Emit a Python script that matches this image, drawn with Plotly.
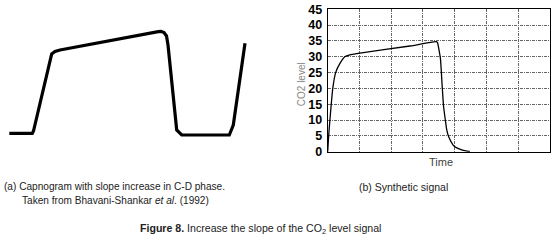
import plotly.graph_objects as go

# (a) Capnogram drawing (arbitrary units: time, CO2 level)
cap_t = [9.3, 32.3, 33.5, 51.7, 55, 60, 158.3, 161, 164, 166.5, 168, 173.3, 176.7, 181.7, 229.3, 233.3, 245]
cap_v = [6.7, 6.7, 9, 86, 88.5, 90, 108.3, 108.7, 107.5, 104, 95, 40, 10, 5, 5, 15, 96.7]

# (b) Synthetic signal (time in grid units, CO2 level)
syn_t = [0, 0.03, 0.07, 0.16, 0.25, 0.39, 0.54, 0.7, 0.91, 2.59, 3.42, 3.46, 3.49, 3.55, 3.6, 3.65,
         3.72, 3.75, 3.81, 3.95, 4.05, 4.22, 4.35, 4.48]
syn_v = [0, 5, 10, 20, 25, 28, 30, 30.6, 31, 33.4, 34.8, 34.4, 33, 29.4, 21.5, 14.2,
         8.9, 6.8, 4.7, 2.1, 1.3, 0.6, 0.25, 0]
y_ticks = [0, 5, 10, 15, 20, 25, 30, 35, 40, 45]

W, H = 554, 240
def fx(px):
    return px / W
def fy(py):
    return (H - py) / H

fig = go.Figure()
fig.add_trace(go.Scatter(x=cap_t, y=cap_v, mode="lines", xaxis="x", yaxis="y",
                         line=dict(color="black", width=3.2), showlegend=False, hoverinfo="skip"))
fig.add_trace(go.Scatter(x=syn_t, y=syn_v, mode="lines", xaxis="x2", yaxis="y2",
                         line=dict(color="black", width=1.3, shape="spline", smoothing=0.6),
                         showlegend=False, hoverinfo="skip"))

grid = dict(showgrid=True, gridcolor="#666", gridwidth=1, griddash="3px,1px,1px,1px")

fig.update_layout(
    width=W, height=H,
    margin=dict(l=0, r=0, t=0, b=0, autoexpand=False),
    paper_bgcolor="white", plot_bgcolor="white",
    font=dict(family="Liberation Sans, Arial, sans-serif", color="#222"),
    xaxis=dict(domain=[0, fx(277)], range=[0, 277], visible=False, automargin=False),
    yaxis=dict(domain=[fy(180), 1], range=[-40, 140], visible=False, automargin=False),
    xaxis2=dict(domain=[fx(327.7), fx(550)], range=[0, 7], anchor="y2", dtick=1,
                showticklabels=False, ticks="", zeroline=False, automargin=False,
                showline=True, mirror=True, linecolor="black", linewidth=1, **grid),
    yaxis2=dict(domain=[fy(151.7), fy(9.3)], range=[0, 45], anchor="x2", automargin=False,
                tickvals=y_ticks, ticks="", zeroline=False, ticklabelstandoff=2,
                tickfont=dict(size=12.5, color="black", family="Liberation Sans, Arial, sans-serif", weight="bold"),
                showline=True, mirror=True, linecolor="black", linewidth=1, **grid),
)

ann = [
    dict(text="CO2 level", x=fx(301.2), y=fy(84), textangle=-90, font=dict(size=10, color="#888"),
         xanchor="center", yanchor="middle"),
    dict(text="Time", x=fx(441.3), y=fy(162), font=dict(size=11, color="#444"),
         xanchor="center", yanchor="middle"),
    dict(text="(a) Capnogram with slope increase in C-D phase.", x=fx(2), y=fy(186.7),
         font=dict(size=10.1), xanchor="left", yanchor="middle"),
    dict(text="Taken from Bhavani-Shankar <i>et al</i>. (1992)", x=fx(20), y=fy(200),
         font=dict(size=10.1), xanchor="left", yanchor="middle"),
    dict(text="(b) Synthetic signal", x=fx(403), y=fy(186.7),
         font=dict(size=10.5), xanchor="center", yanchor="middle"),
    dict(text="<b>Figure 8.</b> Increase the slope of the CO<sub>2</sub> level signal", x=fx(260.8), y=fy(229.3),
         font=dict(size=10.6), xanchor="center", yanchor="middle"),
]
for a in ann:
    a.update(xref="paper", yref="paper", showarrow=False)
    fig.add_annotation(**a)

fig.write_html("out.html", config={"displayModeBar": False},
               post_script="document.body.style.margin='0';document.body.style.overflow='hidden';")
